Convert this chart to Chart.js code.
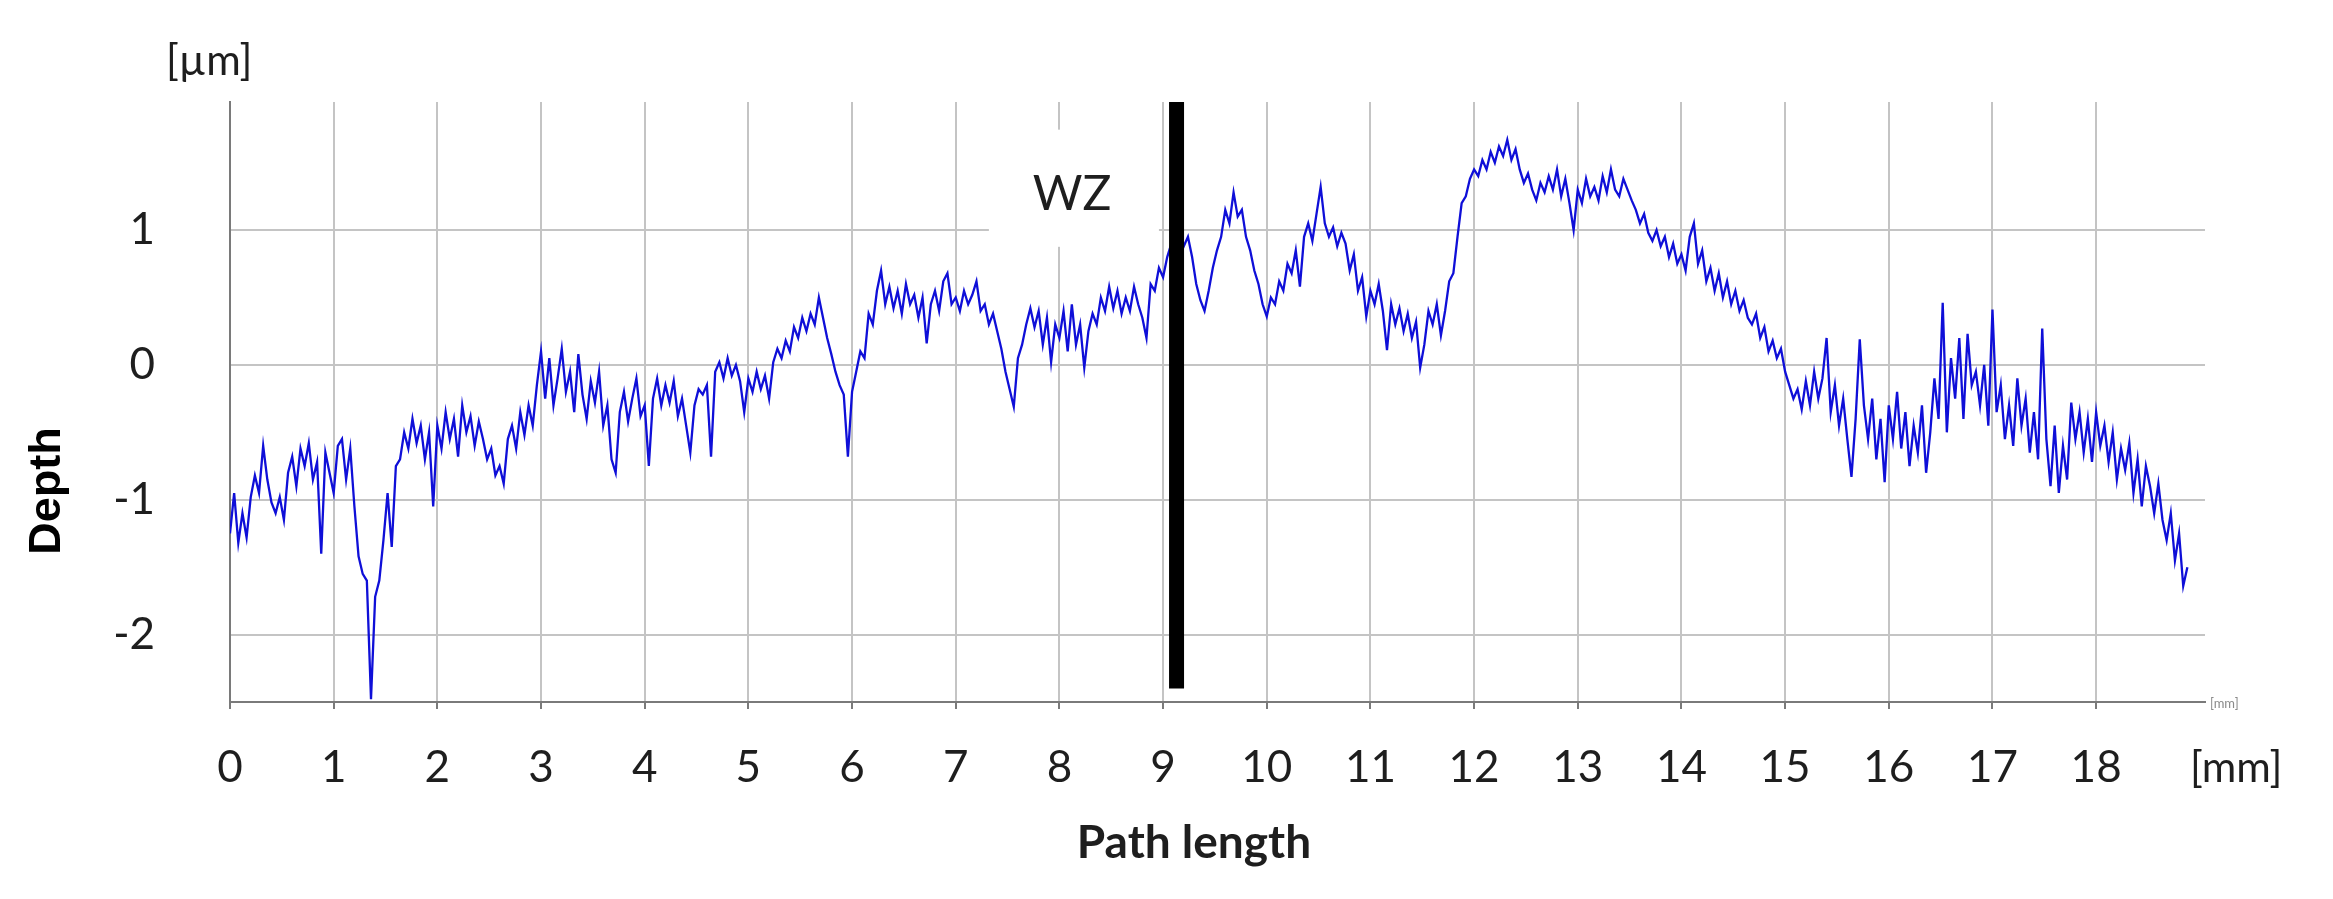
<!DOCTYPE html>
<html>
<head>
<meta charset="utf-8">
<script src="https://cdn.jsdelivr.net/npm/chart.js@4.4.1/dist/chart.umd.min.js"></script>
<style>
    html, body { margin: 0; padding: 0; background: #fff; }
    canvas { display: block; }
</style>
</head>
<body>
<canvas id="chart-profile" width="2333" height="899"></canvas>
<script>
var stepMm = 0.04;
var depth00 = [-1.25, -0.95, -1.32, -1.10, -1.28, -0.98, -0.82, -0.95, -0.60, -0.85, -1.02, -1.10, -0.98, -1.15, -0.80, -0.68, -0.90, -0.62, -0.75, -0.58, -0.85, -0.72, -1.40, -0.65, -0.80];
var depth01 = [-0.95, -0.60, -0.55, -0.85, -0.62, -1.05, -1.42, -1.55, -1.60, -2.48, -1.72, -1.60, -1.30, -0.95, -1.35, -0.75, -0.70, -0.50, -0.62, -0.40, -0.58, -0.45, -0.70, -0.50, -1.05];
var depth02 = [-0.45, -0.62, -0.35, -0.55, -0.40, -0.68, -0.30, -0.50, -0.38, -0.60, -0.42, -0.55, -0.70, -0.62, -0.82, -0.75, -0.88, -0.55, -0.45, -0.62, -0.35, -0.52, -0.30, -0.45, -0.15];
var depth03 = [0.10, -0.25, 0.05, -0.30, -0.10, 0.12, -0.20, -0.05, -0.35, 0.08, -0.22, -0.40, -0.12, -0.28, -0.05, -0.45, -0.30, -0.70, -0.80, -0.35, -0.20, -0.42, -0.25, -0.10, -0.38];
var depth04 = [-0.30, -0.75, -0.25, -0.10, -0.30, -0.15, -0.28, -0.12, -0.38, -0.25, -0.45, -0.65, -0.30, -0.18, -0.22, -0.15, -0.68, -0.05, 0.02, -0.10, 0.05, -0.08, 0.00, -0.12, -0.35];
var depth05 = [-0.10, -0.20, -0.05, -0.18, -0.08, -0.25, 0.02, 0.12, 0.05, 0.18, 0.10, 0.28, 0.20, 0.35, 0.25, 0.38, 0.30, 0.50, 0.35, 0.20, 0.08, -0.05, -0.15, -0.22, -0.68];
var depth06 = [-0.20, -0.05, 0.10, 0.05, 0.38, 0.30, 0.55, 0.70, 0.45, 0.58, 0.42, 0.55, 0.38, 0.60, 0.45, 0.52, 0.35, 0.50, 0.16, 0.45, 0.55, 0.40, 0.62, 0.68, 0.45];
var depth07 = [0.50, 0.40, 0.55, 0.45, 0.52, 0.62, 0.40, 0.45, 0.30, 0.38, 0.25, 0.12, -0.05, -0.18, -0.31, 0.05, 0.15, 0.30, 0.42, 0.28, 0.40, 0.15, 0.35, 0.02, 0.30];
var depth08 = [0.20, 0.40, 0.10, 0.45, 0.15, 0.30, -0.02, 0.25, 0.38, 0.30, 0.50, 0.40, 0.58, 0.42, 0.55, 0.38, 0.50, 0.40, 0.58, 0.45, 0.35, 0.20, 0.60, 0.55, 0.72];
var depth09 = [0.65, 0.80, 0.90, 0.85, 1.00, 0.88, 0.95, 0.80, 0.60, 0.48, 0.40, 0.55, 0.72, 0.85, 0.95, 1.15, 1.05, 1.28, 1.10, 1.15, 0.95, 0.85, 0.70, 0.60, 0.45];
var depth10 = [0.36, 0.50, 0.45, 0.62, 0.55, 0.75, 0.68, 0.85, 0.58, 0.95, 1.05, 0.92, 1.12, 1.32, 1.05, 0.95, 1.02, 0.88, 0.98, 0.90, 0.70, 0.82, 0.55, 0.65, 0.36];
var depth11 = [0.55, 0.45, 0.60, 0.40, 0.11, 0.45, 0.30, 0.42, 0.25, 0.38, 0.20, 0.32, -0.02, 0.15, 0.40, 0.30, 0.45, 0.22, 0.40, 0.62, 0.68, 0.95, 1.20, 1.25, 1.38];
var depth12 = [1.45, 1.40, 1.52, 1.45, 1.58, 1.50, 1.62, 1.55, 1.67, 1.52, 1.60, 1.45, 1.35, 1.42, 1.30, 1.22, 1.35, 1.28, 1.40, 1.30, 1.45, 1.25, 1.38, 1.20, 1.00];
var depth13 = [1.30, 1.20, 1.38, 1.25, 1.32, 1.22, 1.40, 1.28, 1.45, 1.30, 1.25, 1.38, 1.30, 1.22, 1.15, 1.05, 1.12, 0.98, 0.92, 1.00, 0.88, 0.95, 0.80, 0.90, 0.75];
var depth14 = [0.82, 0.70, 0.95, 1.05, 0.75, 0.85, 0.62, 0.72, 0.55, 0.68, 0.50, 0.62, 0.45, 0.55, 0.40, 0.48, 0.35, 0.30, 0.38, 0.20, 0.28, 0.10, 0.18, 0.05, 0.12];
var depth15 = [-0.05, -0.15, -0.25, -0.18, -0.33, -0.12, -0.30, -0.05, -0.25, -0.10, 0.20, -0.35, -0.15, -0.45, -0.25, -0.55, -0.83, -0.40, 0.19, -0.30, -0.55, -0.25, -0.70, -0.40, -0.87];
var depth16 = [-0.30, -0.55, -0.20, -0.62, -0.35, -0.75, -0.45, -0.65, -0.30, -0.80, -0.50, -0.10, -0.40, 0.46, -0.50, 0.05, -0.25, 0.20, -0.40, 0.23, -0.15, -0.05, -0.30, 0.00, -0.45];
var depth17 = [0.41, -0.35, -0.15, -0.55, -0.30, -0.60, -0.10, -0.45, -0.25, -0.65, -0.35, -0.70, 0.27, -0.55, -0.90, -0.45, -0.95, -0.60, -0.85, -0.28, -0.55, -0.35, -0.65, -0.40, -0.72];
var depth18 = [-0.35, -0.60, -0.45, -0.72, -0.50, -0.85, -0.62, -0.78, -0.58, -0.95, -0.70, -1.05, -0.75, -0.90, -1.10, -0.88, -1.15, -1.30, -1.10, -1.45, -1.25, -1.64, -1.50];

var xTicks = [0, 1, 2, 3, 4, 5, 6, 7, 8, 9, 10, 11, 12, 13, 14, 15, 16, 17, 18];
var yTicks = [-2, -1, 0, 1];

// WZ marker (mm) and the white label box behind "WZ"
var wzPos = 9.13;
var wzTop = 1.95, wzBottom = -2.40;
var wzBox = [7.32, 8.96, 1.745, 0.876];

(function () {

    var depth = [].concat(depth00, depth01, depth02, depth03, depth04, depth05, depth06, depth07,
        depth08, depth09, depth10, depth11, depth12, depth13, depth14, depth15, depth16, depth17, depth18);

    var pontos = [];
    for (var i = 0; i < depth.length; i++) {
        pontos.push({ x: +(i * stepMm).toFixed(2), y: depth[i] });
    }

    var textos = {
        id: 'textos',
        beforeDatasetsDraw: function (chart) {
            var ctx = chart.ctx, sx = chart.scales.x, sy = chart.scales.y;
            var x0 = sx.getPixelForValue(wzBox[0]), x1 = sx.getPixelForValue(wzBox[1]);
            var y0 = sy.getPixelForValue(wzBox[2]), y1 = sy.getPixelForValue(wzBox[3]);
            ctx.save();
            ctx.fillStyle = '#ffffff';
            ctx.fillRect(x0, y0, x1 - x0, y1 - y0);
            ctx.restore();
        },
        afterDraw: function (chart) {
            var ctx = chart.ctx;
            ctx.save();
            ctx.fillStyle = '#1e1e1e';
            ctx.textBaseline = 'middle';

            ctx.font = '42px Lato';
            ctx.textAlign = 'left';
            ctx.fillText('[µm]', 166, 61);
            ctx.fillText('[mm]', 2190, 768);

            ctx.font = '48px Lato';
            ctx.textAlign = 'center';
            ctx.fillText('WZ', 1072, 195);

            ctx.font = 'bold 46px Lato';
            ctx.fillText('Path length', 1194, 843);

            ctx.fillStyle = '#8a8a8a';
            ctx.font = '13px Lato';
            ctx.textAlign = 'left';
            ctx.fillText('[mm]', 2210, 704);

            ctx.fillStyle = '#000000';
            ctx.font = 'bold 45px "Liberation Sans"';
            ctx.textAlign = 'center';
            ctx.translate(48, 491);
            ctx.rotate(-Math.PI / 2);
            ctx.fillText('Depth', 0, 0);
            ctx.restore();
        }
    };

    var config = {
        type: 'line',
        data: {
            datasets: [{
                label: 'WZ',
                data: [{ x: wzPos, y: wzTop }, { x: wzPos, y: wzBottom }],
                borderColor: '#000000',
                borderWidth: 15,
                borderCapStyle: 'butt',
                pointRadius: 0
            }, {
                label: 'Depth',
                data: pontos,
                borderColor: '#0f0fd8',
                borderWidth: 2.3,
                pointRadius: 0,
                tension: 0
            }]
        },
        options: {
            responsive: false,
            animation: false,
            layout: {
                padding: { left: 0, top: 102, right: 128, bottom: 0 }
            },
            plugins: {
                legend: { display: false },
                tooltip: { enabled: false },
                title: { display: false }
            },
            scales: {
                x: {
                    type: 'linear',
                    min: 0,
                    max: 19.05,
                    afterBuildTicks: function (scale) {
                        scale.ticks = xTicks.map(function (v) { return { value: v }; });
                    },
                    afterFit: function (scale) { scale.height = 197; },
                    grid: { color: '#c4c4c4', lineWidth: 2, tickLength: 7, tickColor: '#7a7a7a' },
                    border: { color: '#7a7a7a', width: 2 },
                    ticks: {
                        padding: 32,
                        maxRotation: 0,
                        autoSkip: false,
                        color: '#1e1e1e',
                        font: { family: 'Lato', size: 44 }
                    }
                },
                y: {
                    type: 'linear',
                    min: -2.5,
                    max: 1.95,
                    afterBuildTicks: function (scale) {
                        scale.ticks = yTicks.map(function (v) { return { value: v }; });
                    },
                    afterFit: function (scale) { scale.width = 230; },
                    grid: { color: '#c4c4c4', lineWidth: 2, drawTicks: false },
                    border: { color: '#7a7a7a', width: 2 },
                    ticks: {
                        padding: 75,
                        color: '#1e1e1e',
                        font: { family: 'Lato', size: 44 }
                    }
                }
            }
        },
        plugins: [textos]
    };

    new Chart(document.getElementById('chart-profile'), config);
})();
</script>
</body>
</html>
